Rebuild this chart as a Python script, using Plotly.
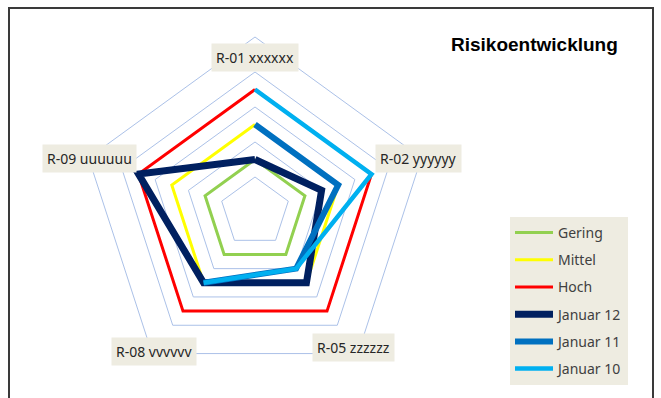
import math
import plotly.graph_objects as go

# ---- data ----
categories = ["R-01 xxxxxx", "R-02 yyyyyy", "R-05 zzzzzz", "R-08 vvvvvv", "R-09 uuuuuu"]
gering = [1.5, 1.5, 1.5, 1.5, 1.5]
mittel = [2.5, 2.5, 2.5, 2.5, 2.5]
hoch = [3.5, 3.5, 3.5, 3.5, 3.5]
januar_12 = [1.5, 2.0, 2.5, 2.5, 3.5]
januar_11 = [2.5, 2.5, 2.0, 2.5, None]
januar_10 = [3.5, 3.5, 2.0, 2.5, None]
series_names = ["Gering", "Mittel", "Hoch", "Januar 12", "Januar 11", "Januar 10"]
title_text = "Risikoentwicklung"

# ---- styles ----
colors = ["#92D050", "#FFFF00", "#FF0000", "#002060", "#0070C0", "#00B0F0"]
widths = [3, 3, 3, 7, 6, 4.5]
W, H = 661, 398
CX, CY, RAD = 255, 212, 175
RMAX = 5
grid_color = "#ABC1E8"
font_fam = "Noto Sans, Open Sans, sans-serif"

fig = go.Figure()
all_series = [gering, mittel, hoch, januar_12, januar_11, januar_10]
for name, vals, col, w in zip(series_names, all_series, colors, widths):
    fig.add_trace(go.Scatterpolar(
        r=list(vals) + [vals[0]],
        theta=categories + [categories[0]],
        mode="lines",
        name=name,
        legendgroup=name,
        line=dict(color=col, width=w),
        connectgaps=False,
        hoverinfo="skip",
    ))

fig.update_layout(
    width=W, height=H,
    margin=dict(l=0, r=0, t=0, b=0),
    paper_bgcolor="white",
    showlegend=True,
    polar=dict(
        domain=dict(x=[(CX - RAD) / W, (CX + RAD) / W],
                    y=[(H - CY - RAD) / H, (H - CY + RAD) / H]),
        bgcolor="white",
        gridshape="linear",
        radialaxis=dict(range=[0, RMAX], tickvals=[1, 2, 3, 4, 5],
                        showticklabels=False, ticks="", showline=False,
                        gridcolor=grid_color, gridwidth=1),
        angularaxis=dict(direction="clockwise", rotation=90,
                         showticklabels=False, ticks="", showgrid=False,
                         showline=True, linecolor=grid_color, linewidth=1),
    ),
    legend=dict(
        x=510 / W, y=1 - 217 / H, xanchor="left", yanchor="top",
        bgcolor="#EEECE1", borderwidth=0,
        font=dict(family=font_fam, size=14, color="#404040"),
        traceorder="grouped", tracegroupgap=6,
        itemwidth=38,
    ),
)

# axis labels in boxes
label_r = [155, 172, 168, 172, 174]
for i, cat in enumerate(categories):
    ang = math.radians(90 - 72 * i)
    px = CX + label_r[i] * math.cos(ang)
    py = CY - label_r[i] * math.sin(ang)
    fig.add_annotation(
        x=px / W, y=1 - py / H, xref="paper", yref="paper",
        text=cat, showarrow=False, xanchor="center", yanchor="middle",
        bgcolor="#EEECE1", borderpad=4,
        font=dict(family=font_fam, size=14, color="#262626"),
    )

# title
fig.add_annotation(
    x=620 / W, y=1 - 45 / H, xref="paper", yref="paper",
    text="<b>" + title_text + "</b>", showarrow=False,
    xanchor="right", yanchor="middle",
    font=dict(family="Liberation Sans, Arial, sans-serif", size=19, color="black"),
)

# chart frame
fig.add_shape(type="rect", xref="paper", yref="paper",
              x0=9 / W, x1=653 / W, y0=-0.1, y1=1 - 8 / H,
              line=dict(color="#3A3A3A", width=2), fillcolor="rgba(0,0,0,0)",
              layer="below")

fig.write_html("out.html")
